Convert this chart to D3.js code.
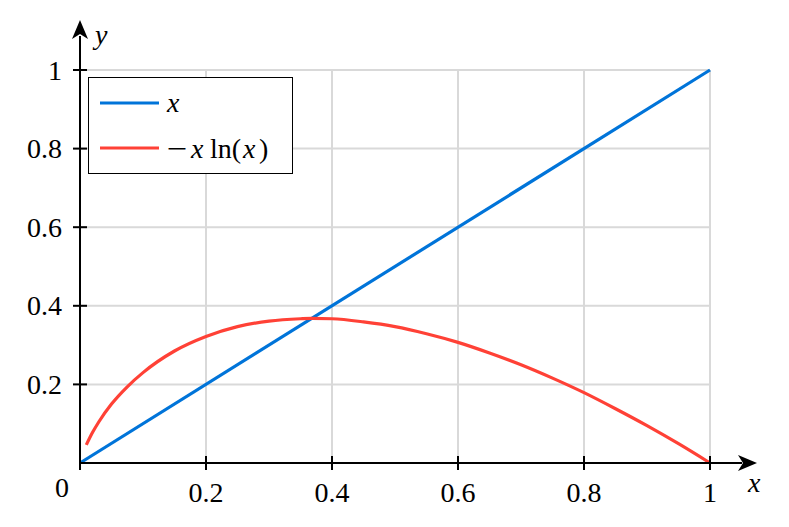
<!DOCTYPE html>
<html><head><meta charset="utf-8">
<script src="https://cdn.jsdelivr.net/npm/d3@7"></script>
<style>body{margin:0;background:#fff}svg{display:block}text{font-family:"Liberation Serif","DejaVu Serif",serif;}</style>
</head><body>
<svg id="c" width="789" height="527"></svg>
<script>
const xTicks = [0.2, 0.4, 0.6, 0.8, 1];
const yTicks = [0.2, 0.4, 0.6, 0.8, 1];
const xTickLabels = ["0.2", "0.4", "0.6", "0.8", "1"];
const yTickLabels = ["0.2", "0.4", "0.6", "0.8", "1"];
const lineX = [0, 1];
const lineY = [0, 1];
const curveX = [0.01,0.02,0.03,0.05,0.075,0.1,0.15,0.2,0.25,0.3,0.35,0.368,0.4,0.45,0.5,0.55,0.6,0.65,0.7,0.75,0.8,0.85,0.9,0.95,1.0];
const curveY = [0.046,0.078,0.105,0.150,0.194,0.230,0.285,0.322,0.347,0.361,0.367,0.368,0.367,0.359,0.347,0.329,0.307,0.280,0.250,0.216,0.179,0.138,0.095,0.049,0];
const seriesNames = ["x", "−x ln(x)"];
const colors = ["#0074d9", "#ff4136"];

const FS = 28;
const svg = d3.select("#c");
const x = d3.scaleLinear().domain([0, 1]).range([80, 710]);
const y = d3.scaleLinear().domain([0, 1]).range([463, 70]);

// grid
const g = svg.append("g");
g.selectAll(".vg").data(xTicks).enter().append("line")
  .attr("x1", d => x(d)).attr("x2", d => x(d)).attr("y1", y(0)).attr("y2", y(1))
  .attr("stroke", "#d9d9d9").attr("stroke-width", 2);
g.selectAll(".hg").data(yTicks).enter().append("line")
  .attr("x1", x(0)).attr("x2", x(1)).attr("y1", d => y(d)).attr("y2", d => y(d))
  .attr("stroke", "#d9d9d9").attr("stroke-width", 2);

// series
const line = d3.line().x(d => x(d[0])).y(d => y(d[1]));
svg.append("path").datum(lineX.map((v, i) => [v, lineY[i]]))
  .attr("d", line).attr("fill", "none").attr("stroke", colors[0]).attr("stroke-width", 3.2);
svg.append("path").datum(curveX.map((v, i) => [v, curveY[i]]))
  .attr("d", line.curve(d3.curveMonotoneX)).attr("fill", "none").attr("stroke", colors[1]).attr("stroke-width", 3.2);

// axes lines
svg.append("line").attr("x1", x(0) - 1).attr("x2", 742).attr("y1", y(0)).attr("y2", y(0))
  .attr("stroke", "#000").attr("stroke-width", 2);
svg.append("path").attr("d", `M757,${y(0)} L738,${y(0)-8} L743,${y(0)} L738,${y(0)+8} Z`).attr("fill", "#000");
svg.append("line").attr("x1", x(0)).attr("x2", x(0)).attr("y1", y(0) + 1).attr("y2", 36)
  .attr("stroke", "#000").attr("stroke-width", 2);
svg.append("path").attr("d", `M${x(0)},20 L${x(0)-8},39 L${x(0)},34 L${x(0)+8},39 Z`).attr("fill", "#000");

// ticks
svg.selectAll(".xt").data([0].concat(xTicks)).enter().append("line")
  .attr("x1", d => x(d)).attr("x2", d => x(d)).attr("y1", y(0) - 7).attr("y2", y(0) + 7)
  .attr("stroke", "#000").attr("stroke-width", 2);
svg.selectAll(".yt").data(yTicks).enter().append("line")
  .attr("y1", d => y(d)).attr("y2", d => y(d)).attr("x1", x(0) - 7).attr("x2", x(0) + 7)
  .attr("stroke", "#000").attr("stroke-width", 2);

// tick labels
svg.selectAll(".xl").data(xTicks).enter().append("text")
  .attr("x", d => x(d)).attr("y", 502).attr("text-anchor", "middle")
  .attr("font-size", FS).text((d, i) => xTickLabels[i]);
svg.selectAll(".yl").data(yTicks).enter().append("text")
  .attr("x", 62).attr("y", d => y(d) + 9.5).attr("text-anchor", "end")
  .attr("font-size", FS).text((d, i) => yTickLabels[i]);
svg.append("text").attr("x", 62).attr("y", 497).attr("text-anchor", "middle").attr("font-size", FS).text("0");

// axis titles
svg.append("text").attr("x", 748).attr("y", 492).attr("font-size", FS).attr("font-style", "italic").text("x");
svg.append("text").attr("x", 95).attr("y", 44).attr("font-size", FS).attr("font-style", "italic").text("y");

// legend
const lg = svg.append("g");
lg.append("rect").attr("x", 88.5).attr("y", 77.5).attr("width", 204).attr("height", 96)
  .attr("fill", "#fff").attr("stroke", "#000").attr("stroke-width", 1);
const rows = [103, 148];
seriesNames.forEach((n, i) => {
  lg.append("line").attr("x1", 100).attr("x2", 159).attr("y1", rows[i]).attr("y2", rows[i])
    .attr("stroke", colors[i]).attr("stroke-width", 3.2);
});
lg.append("text").attr("x", 167).attr("y", rows[0] + 9).attr("font-size", FS).attr("font-style", "italic").text("x");
const ty = rows[1] + 10;
lg.append("text").attr("x", 167).attr("y", ty).attr("font-size", FS).attr("transform", `translate(167,0) scale(1.3,1) translate(-167,0)`).text("−");
lg.append("text").attr("x", 191).attr("y", ty).attr("font-size", FS).attr("font-style", "italic").text("x");
lg.append("text").attr("x", 210).attr("y", ty).attr("font-size", FS).text("ln(");
lg.append("text").attr("x", 243).attr("y", ty).attr("font-size", FS).attr("font-style", "italic").text("x");
lg.append("text").attr("x", 259).attr("y", ty).attr("font-size", FS).text(")");
</script>
</body></html>
